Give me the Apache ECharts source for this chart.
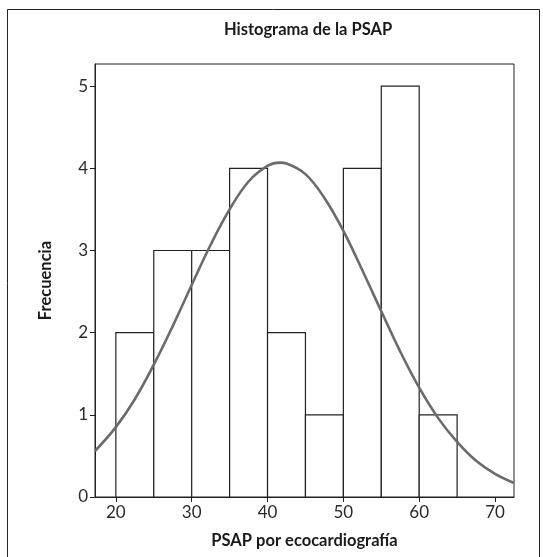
<!DOCTYPE html>
<html>
<head>
<meta charset="utf-8">
<script src="https://cdn.jsdelivr.net/npm/echarts@6/dist/echarts.min.js"></script>
<style>html,body{margin:0;padding:0;background:#fff}#c{width:543px;height:557px}</style>
</head>
<body>
<div id="c"></div>
<script>
// Histogram bins (lower edge, upper edge) and counts
const binStarts = [20, 25, 30, 35, 40, 45, 50, 55, 60];
const binEnds   = [25, 30, 35, 40, 45, 50, 55, 60, 65];
const counts    = [2, 3, 3, 4, 2, 1, 4, 5, 1];
// Fitted normal curve
const curveX = [17.25, 20, 22.5, 25, 27.5, 30, 32.5, 35, 37.5, 40, 41.7, 42.5, 45, 47.5, 50, 52.5, 55, 57.5, 60, 62.5, 65, 67.5, 70, 72.5];
const curveY = [0.56, 0.85, 1.19, 1.61, 2.08, 2.58, 3.07, 3.50, 3.84, 4.03, 4.07, 4.06, 3.93, 3.64, 3.24, 2.76, 2.26, 1.77, 1.33, 0.96, 0.67, 0.44, 0.28, 0.17];
const xTicks = [20, 30, 40, 50, 60, 70];
const yTicks = [0, 1, 2, 3, 4, 5];

const FONT = 'Lato, "Open Sans", sans-serif';
const chart = echarts.init(document.getElementById('c'), null, {renderer: 'canvas'});
chart.setOption({
  animation: false,
  backgroundColor: '#fff',
  title: {
    text: 'Histograma de la PSAP',
    left: 303, top: 16, textAlign: 'center',
    textStyle: {fontFamily: FONT, fontWeight: 'bold', fontSize: 16.5, color: '#1a1a1a'}
  },
  graphic: [{
    type: 'rect', left: 5, top: 7, silent: true,
    shape: {width: 532, height: 570},
    style: {fill: 'none', stroke: '#222', lineWidth: 1}
  }],
  grid: {left: 95, right: 29, top: 64, bottom: 60, show: true, borderColor: '#222', borderWidth: 1, backgroundColor: 'transparent'},
  xAxis: {
    type: 'value', min: 17.25, max: 72.5, interval: 10,
    name: 'PSAP por ecocardiografía', nameLocation: 'middle', nameGap: 35,
    nameTextStyle: {fontFamily: FONT, fontWeight: 'bold', fontSize: 16.5, color: '#1a1a1a'},
    axisLine: {show: true, lineStyle: {color: '#222', width: 1}},
    axisTick: {show: true, length: 5, lineStyle: {color: '#222'}, customValues: xTicks},
    axisLabel: {fontFamily: FONT, fontSize: 17, color: '#2a2a2a', margin: 7, customValues: xTicks, showMinLabel: true, showMaxLabel: true},
    splitLine: {show: false}
  },
  yAxis: {
    type: 'value', min: 0, max: 5.27, interval: 1,
    name: 'Frecuencia', nameLocation: 'middle', nameGap: 41, nameRotate: 90,
    nameTextStyle: {fontFamily: FONT, fontWeight: 'bold', fontSize: 16.5, color: '#1a1a1a'},
    axisLine: {show: true, lineStyle: {color: '#222', width: 1}},
    axisTick: {show: true, length: 5, lineStyle: {color: '#222'}, customValues: yTicks},
    axisLabel: {fontFamily: FONT, fontSize: 17, color: '#2a2a2a', margin: 7, customValues: yTicks},
    splitLine: {show: false}
  },
  series: [{
    type: 'custom',
    data: counts.map((c, i) => [binStarts[i], binEnds[i], c]),
    renderItem: function (params, api) {
      const p0 = api.coord([api.value(0), api.value(2)]);
      const p1 = api.coord([api.value(1), 0]);
      return {
        type: 'rect',
        shape: {x: p0[0], y: p0[1], width: p1[0] - p0[0], height: p1[1] - p0[1]},
        style: {fill: '#fff', stroke: '#222', lineWidth: 1.2}
      };
    },
    z: 2
  }, {
    type: 'line',
    data: curveX.map((x, i) => [x, curveY[i]]),
    smooth: 0.4, showSymbol: false,
    lineStyle: {color: '#6b6b6b', width: 2.6},
    z: 3
  }]
});
</script>
</body>
</html>
